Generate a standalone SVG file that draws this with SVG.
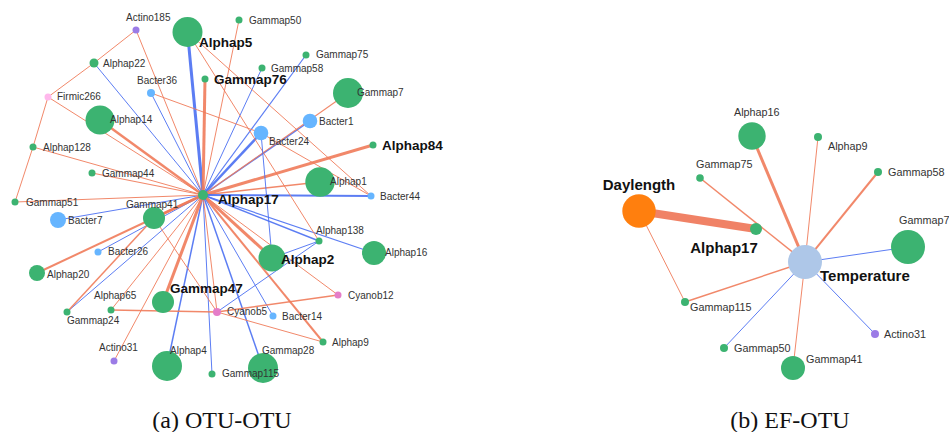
<svg xmlns="http://www.w3.org/2000/svg" width="949" height="432" viewBox="0 0 949 432">
<style>
.o{stroke:#f07b5a;fill:none;stroke-opacity:.9}
.b{stroke:#4a6ff2;fill:none;stroke-opacity:.9}
.g{fill:#3cb371}
.bl{fill:#66b5ff}
.pu{fill:#9b7be6}
.pk{fill:#e57dc8}
.fk{fill:#ffb8ec}
text{font-family:"Liberation Sans",Arial,sans-serif}
.l{font-size:10px;fill:#333}
.r{font-size:10.8px;fill:#333}
.bd{font-size:13.5px;font-weight:bold;fill:#111}
.bb{font-size:15px;font-weight:bold;fill:#111}
.cap{font-family:"Liberation Serif","Times New Roman",serif;font-size:24px;fill:#111}
</style>
<rect width="949" height="432" fill="#fff"/>
<g id="connectors">
<line class="b" stroke-width="3" x1="203" y1="195" x2="187.5" y2="32"/>
<line class="o" stroke-width="3" x1="203" y1="195" x2="205" y2="79"/>
<line class="o" stroke-width="1" x1="203" y1="195" x2="239" y2="20"/>
<line class="o" stroke-width="1" x1="203" y1="195" x2="136" y2="30"/>
<line class="b" stroke-width="1" x1="203" y1="195" x2="94" y2="63"/>
<line class="b" stroke-width="1" x1="203" y1="195" x2="151" y2="93"/>
<line class="b" stroke-width="1" x1="203" y1="195" x2="262" y2="68"/>
<line class="b" stroke-width="1.2" x1="203" y1="195" x2="306" y2="55"/>
<line class="b" stroke-width="2.5" x1="203" y1="195" x2="261" y2="133"/>
<line class="b" stroke-width="1.5" x1="203" y1="195" x2="310" y2="121"/>
<line class="o" stroke-width="1.2" x1="203" y1="195" x2="348" y2="93"/>
<line class="o" stroke-width="3" x1="203" y1="195" x2="373" y2="145"/>
<line class="o" stroke-width="1.5" x1="203" y1="195" x2="320" y2="182"/>
<line class="b" stroke-width="2" x1="203" y1="195" x2="371" y2="196"/>
<line class="b" stroke-width="1.5" x1="203" y1="195" x2="319" y2="241"/>
<line class="b" stroke-width="1.2" x1="203" y1="195" x2="374" y2="253"/>
<line class="o" stroke-width="3" x1="203" y1="195" x2="272" y2="258"/>
<line class="o" stroke-width="1" x1="203" y1="195" x2="338" y2="295"/>
<line class="o" stroke-width="2" x1="203" y1="195" x2="323" y2="342"/>
<line class="b" stroke-width="1" x1="203" y1="195" x2="273" y2="316"/>
<line class="b" stroke-width="1.5" x1="203" y1="195" x2="263" y2="368"/>
<line class="b" stroke-width="1" x1="203" y1="195" x2="212" y2="374"/>
<line class="b" stroke-width="1.5" x1="203" y1="195" x2="167" y2="366"/>
<line class="o" stroke-width="1" x1="203" y1="195" x2="217" y2="312"/>
<line class="o" stroke-width="3" x1="203" y1="195" x2="163" y2="302"/>
<line class="o" stroke-width="1" x1="203" y1="195" x2="114" y2="361"/>
<line class="o" stroke-width="1" x1="203" y1="195" x2="111" y2="310"/>
<line class="b" stroke-width="1" x1="203" y1="195" x2="67" y2="312"/>
<line class="o" stroke-width="2" x1="203" y1="195" x2="37" y2="273"/>
<line class="b" stroke-width="1" x1="203" y1="195" x2="98" y2="252"/>
<line class="b" stroke-width="1" x1="203" y1="195" x2="58" y2="220"/>
<line class="o" stroke-width="3" x1="203" y1="195" x2="154" y2="218"/>
<line class="o" stroke-width="1" x1="203" y1="195" x2="15" y2="202"/>
<line class="o" stroke-width="1.2" x1="203" y1="195" x2="92" y2="173"/>
<line class="o" stroke-width="1" x1="203" y1="195" x2="33" y2="147"/>
<line class="o" stroke-width="2.5" x1="203" y1="195" x2="100" y2="120"/>
<line class="o" stroke-width="1" x1="203" y1="195" x2="48" y2="97"/>
<line class="o" stroke-width="1" x1="136" y1="30" x2="94" y2="63"/>
<line class="o" stroke-width="1" x1="94" y1="63" x2="48" y2="97"/>
<line class="o" stroke-width="1" x1="48" y1="97" x2="33" y2="147"/>
<line class="o" stroke-width="1" x1="33" y1="147" x2="15" y2="202"/>
<line class="o" stroke-width="1" x1="151" y1="93" x2="261" y2="133"/>
<line class="o" stroke-width="1" x1="261" y1="133" x2="371" y2="196"/>
<line class="o" stroke-width="1" x1="187.5" y1="32" x2="319" y2="241"/>
<line class="o" stroke-width="1" x1="187.5" y1="32" x2="371" y2="196"/>
<line class="b" stroke-width="1" x1="261" y1="133" x2="272" y2="258"/>
<line class="b" stroke-width="1" x1="319" y1="241" x2="272" y2="258"/>
<line class="b" stroke-width="1" x1="217" y1="312" x2="319" y2="241"/>
<line class="o" stroke-width="1.5" x1="217" y1="312" x2="338" y2="295"/>
<line class="o" stroke-width="1" x1="217" y1="312" x2="323" y2="342"/>
<line class="o" stroke-width="1.5" x1="217" y1="312" x2="111" y2="310"/>
<line class="o" stroke-width="1" x1="154" y1="218" x2="217" y2="312"/>
<line class="o" stroke-width="1.5" x1="67" y1="312" x2="154" y2="218"/>
<line stroke="#f08266" stroke-width="8" x1="639" y1="211" x2="756" y2="229"/>
<line class="o" stroke-width="1" x1="639" y1="211" x2="685" y2="302"/>
<line class="o" stroke-width="3" x1="805" y1="262" x2="752" y2="136"/>
<line class="o" stroke-width="1" x1="805" y1="262" x2="818" y2="137"/>
<line class="o" stroke-width="2" x1="805" y1="262" x2="878" y2="172"/>
<line class="b" stroke-width="1" x1="805" y1="262" x2="908" y2="247"/>
<line class="o" stroke-width="1.5" x1="805" y1="262" x2="700" y2="178"/>
<line class="o" stroke-width="1.5" x1="805" y1="262" x2="685" y2="302"/>
<line class="b" stroke-width="1" x1="805" y1="262" x2="724" y2="348"/>
<line class="o" stroke-width="1" x1="805" y1="262" x2="793" y2="368"/>
<line class="b" stroke-width="1" x1="805" y1="262" x2="875" y2="334"/>
</g>
<g id="Actino185"><circle class="pu" cx="136" cy="30" r="3.5"/><text class="l" x="126" y="21">Actino185</text></g>
<g id="Alphap5"><circle class="g" cx="187.5" cy="32" r="15"/><text class="bd" x="199" y="47">Alphap5</text></g>
<g id="Gammap50"><circle class="g" cx="239" cy="20" r="3.5"/><text class="l" x="249" y="24">Gammap50</text></g>
<g id="Alphap22"><circle class="g" cx="94" cy="63" r="4.5"/><text class="l" x="103" y="67">Alphap22</text></g>
<g id="Bacter36"><circle class="bl" cx="151" cy="93" r="4"/><text class="l" x="137" y="84">Bacter36</text></g>
<g id="Gammap76"><circle class="g" cx="205" cy="79" r="3.5"/><text class="bd" x="214" y="84">Gammap76</text></g>
<g id="Gammap75"><circle class="g" cx="306" cy="55" r="3.5"/><text class="l" x="316" y="58">Gammap75</text></g>
<g id="Gammap58"><circle class="g" cx="262" cy="68" r="3.5"/><text class="l" x="271" y="72">Gammap58</text></g>
<g id="Gammap7"><circle class="g" cx="348" cy="93" r="15"/><text class="l" x="357" y="96">Gammap7</text></g>
<g id="Firmic266"><circle class="fk" cx="48" cy="97" r="3.5"/><text class="l" x="57" y="100">Firmic266</text></g>
<g id="Alphap14"><circle class="g" cx="100" cy="120" r="14.5"/><text class="l" x="110" y="123">Alphap14</text></g>
<g id="Bacter1"><circle class="bl" cx="310" cy="121" r="7.3"/><text class="l" x="319" y="125">Bacter1</text></g>
<g id="Bacter24"><circle class="bl" cx="261" cy="133" r="7.3"/><text class="l" x="269" y="145">Bacter24</text></g>
<g id="Alphap84"><circle class="g" cx="373" cy="145" r="3.5"/><text class="bd" x="382" y="150">Alphap84</text></g>
<g id="Alphap128"><circle class="g" cx="33" cy="147" r="3.5"/><text class="l" x="43" y="151">Alphap128</text></g>
<g id="Gammap44"><circle class="g" cx="92" cy="173" r="3.5"/><text class="l" x="102" y="177">Gammap44</text></g>
<g id="Alphap1"><circle class="g" cx="320" cy="182" r="14.7"/><text class="l" x="330" y="185">Alphap1</text></g>
<g id="Bacter44"><circle class="bl" cx="371" cy="196" r="3.5"/><text class="l" x="380" y="200">Bacter44</text></g>
<g id="Gammap51"><circle class="g" cx="15" cy="202" r="3.5"/><text class="l" x="26" y="206">Gammap51</text></g>
<g id="Gammap41"><circle class="g" cx="154" cy="218" r="11"/><text class="l" x="126" y="208">Gammap41</text></g>
<g id="Bacter7"><circle class="bl" cx="58" cy="220" r="8"/><text class="l" x="68" y="224">Bacter7</text></g>
<g id="Alphap138"><circle class="g" cx="319" cy="241" r="3.5"/><text class="l" x="316" y="234">Alphap138</text></g>
<g id="Alphap16"><circle class="g" cx="374" cy="253" r="12"/><text class="l" x="385" y="256">Alphap16</text></g>
<g id="Bacter26"><circle class="bl" cx="98" cy="252" r="3.5"/><text class="l" x="108" y="255">Bacter26</text></g>
<g id="Alphap2"><circle class="g" cx="272" cy="258" r="13.5"/><text class="bd" x="281" y="264">Alphap2</text></g>
<g id="Alphap20"><circle class="g" cx="37" cy="273" r="8"/><text class="l" x="47" y="278">Alphap20</text></g>
<g id="Cyanob12"><circle class="pk" cx="338" cy="295" r="3.5"/><text class="l" x="348" y="299">Cyanob12</text></g>
<g id="Alphap65"><circle class="g" cx="111" cy="310" r="3.5"/><text class="l" x="94" y="299">Alphap65</text></g>
<g id="Gammap24"><circle class="g" cx="67" cy="312" r="3.5"/><text class="l" x="67" y="324">Gammap24</text></g>
<g id="Gammap47"><circle class="g" cx="163" cy="302" r="11"/><text class="bd" x="170" y="293">Gammap47</text></g>
<g id="Cyanob5"><circle class="pk" cx="217" cy="312" r="4"/><text class="l" x="227" y="315">Cyanob5</text></g>
<g id="Bacter14"><circle class="bl" cx="273" cy="316" r="3.5"/><text class="l" x="282" y="320">Bacter14</text></g>
<g id="Alphap9"><circle class="g" cx="323" cy="342" r="3.5"/><text class="l" x="332" y="346">Alphap9</text></g>
<g id="Actino31"><circle class="pu" cx="114" cy="361" r="3.5"/><text class="l" x="99" y="351">Actino31</text></g>
<g id="Alphap4"><circle class="g" cx="167" cy="366" r="15"/><text class="l" x="170" y="354">Alphap4</text></g>
<g id="Gammap28"><circle class="g" cx="263" cy="368" r="15"/><text class="l" x="262" y="354">Gammap28</text></g>
<g id="Gammap115"><circle class="g" cx="212" cy="374" r="3.5"/><text class="l" x="222" y="377">Gammap115</text></g>
<g id="Alphap17"><circle class="g" cx="203" cy="195" r="5"/><text class="bd" x="218" y="204">Alphap17</text></g>
<g id="EF-Daylength"><circle fill="#ff7f0e" cx="639" cy="211" r="16.7"/><text class="bb" x="639" y="190" text-anchor="middle">Daylength</text></g>
<g id="EF-Alphap17"><circle class="g" cx="756" cy="229" r="6"/><text class="bb" x="724" y="253" text-anchor="middle">Alphap17</text></g>
<g id="EF-Alphap16"><circle class="g" cx="752" cy="136" r="13.7"/><text class="r" x="734" y="116">Alphap16</text></g>
<g id="EF-Gammap75"><circle class="g" cx="700" cy="178" r="3.8"/><text class="r" x="696" y="168">Gammap75</text></g>
<g id="EF-Alphap9"><circle class="g" cx="818" cy="137" r="4"/><text class="r" x="828" y="150">Alphap9</text></g>
<g id="EF-Gammap58"><circle class="g" cx="878" cy="172" r="4"/><text class="r" x="888" y="176">Gammap58</text></g>
<g id="EF-Gammap7"><circle class="g" cx="908" cy="247" r="17"/><text class="r" x="899" y="224" font-size="10.3">Gammap7</text></g>
<g id="EF-Gammap115"><circle class="g" cx="685" cy="302" r="4"/><text class="r" x="690" y="311">Gammap115</text></g>
<g id="EF-Gammap50"><circle class="g" cx="724" cy="348" r="4"/><text class="r" x="734" y="352">Gammap50</text></g>
<g id="EF-Gammap41"><circle class="g" cx="793" cy="368" r="12"/><text class="r" x="806" y="363">Gammap41</text></g>
<g id="EF-Actino31"><circle class="pu" cx="875" cy="334" r="4"/><text class="r" x="884" y="338">Actino31</text></g>
<g id="EF-Temperature"><circle fill="#aec7e8" cx="805" cy="262" r="17"/><text class="bb" x="820" y="281">Temperature</text></g>
<text class="cap" x="222" y="428" text-anchor="middle">(a) OTU-OTU</text>
<text class="cap" x="790" y="428" text-anchor="middle">(b) EF-OTU</text>
</svg>
